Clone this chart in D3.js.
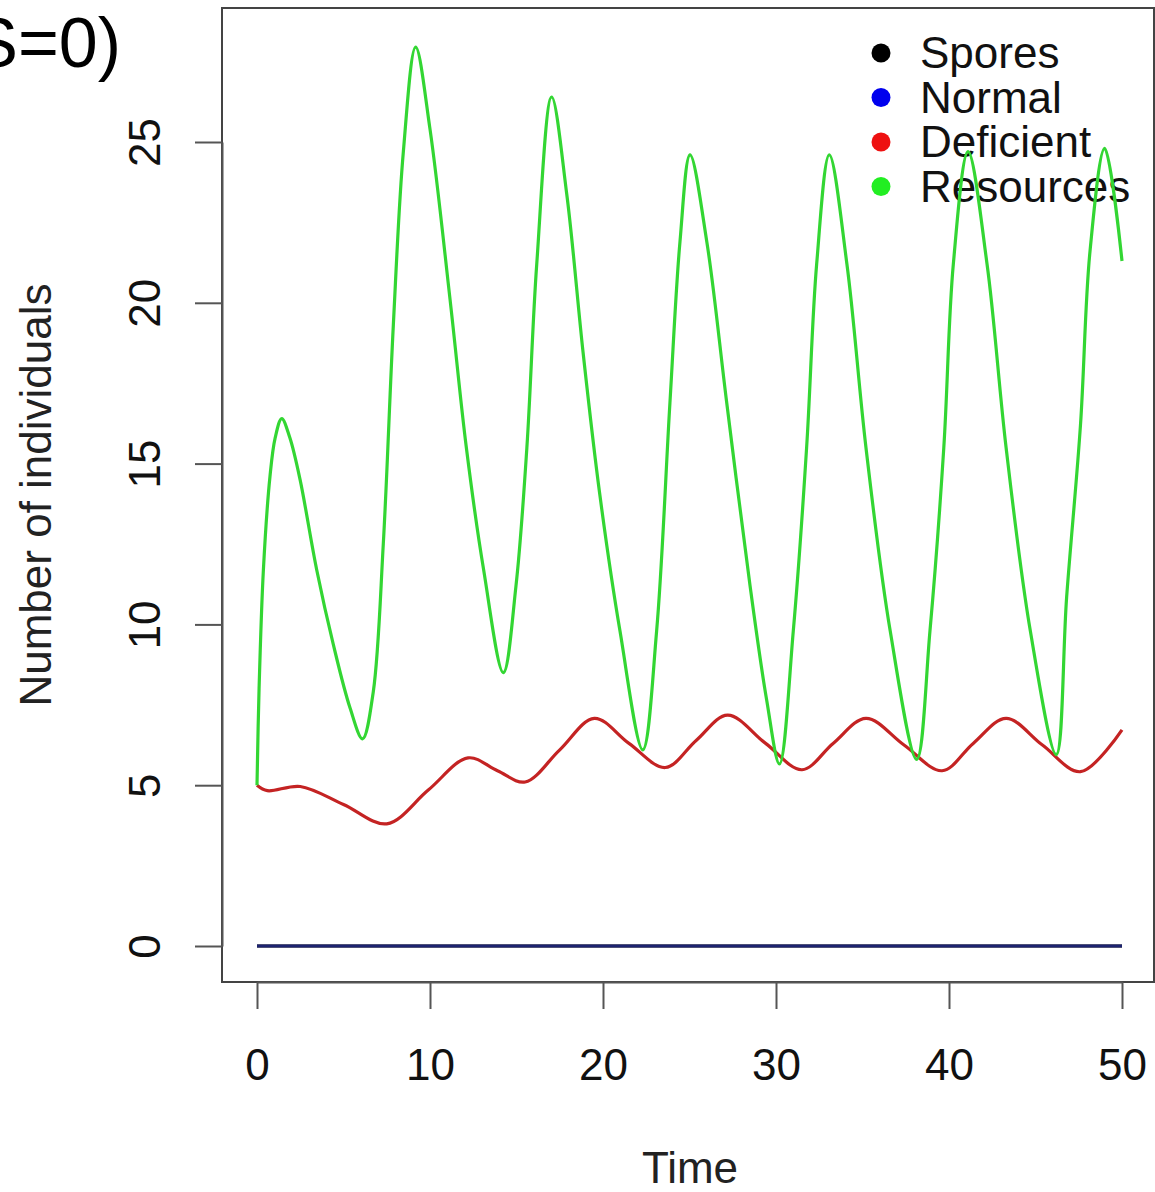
<!DOCTYPE html>
<html>
<head>
<meta charset="utf-8">
<script src="https://cdn.jsdelivr.net/npm/d3@7"></script>
<style>
  body { margin: 0; background: #fff; }
  svg { display: block; font-family: "Liberation Sans", Arial, sans-serif; }
</style>
</head>
<body>
<svg width="1155" height="1192"></svg>
<script>
// series (time, value)
const resTime = [0, 0.12, 0.37, 0.75, 1.05, 1.43, 1.9, 2.49, 3.45, 4.4, 5.38, 6.1, 6.72, 7.3, 7.88, 8.46, 9.17, 10.0, 11.16, 12.1, 13.1, 14.24,
                 14.97, 15.6, 16.17, 17.03, 17.9, 18.86, 19.8, 20.98, 22.3, 23.1, 23.87, 24.45, 25.03, 26.0, 27.15, 28.5, 29.46, 30.2,
                 31.0, 31.77, 32.35, 33.08, 34.1, 35.2, 36.6, 38.13, 38.9, 39.7, 40.25, 41.1, 42.2, 43.3, 44.7, 46.2,
                 46.8, 47.6, 48.15, 49.0, 50.0];
const resources = [5.0, 8.0, 11.7, 14.6, 15.8, 16.4, 15.8, 14.5, 11.7, 9.4, 7.4, 6.44, 7.9, 12.5, 19.3, 24.7, 27.95, 25.4, 20.1, 15.5, 11.7, 8.5,
                   11.2, 15.5, 21.2, 26.4, 23.4, 18.4, 14.1, 9.8, 6.1, 9.8, 16.9, 21.9, 24.6, 21.9, 16.9, 11.2, 7.65, 5.66,
                   9.8, 15.5, 21.2, 24.6, 21.2, 15.5, 9.8, 5.8, 9.8, 15.5, 21.2, 24.7, 21.2, 15.5, 9.8, 5.95,
                   10.85, 16.2, 21.6, 24.8, 21.3];

const defTime = [0, 0.6, 2.5, 5.0, 7.5, 9.9, 12.2, 13.9, 15.5, 17.5, 19.5, 21.5, 23.6, 25.4, 27.2, 29.4, 31.5, 33.3, 35.2,
                 37.4, 39.6, 41.4, 43.3, 45.4, 47.6, 50.0];
const deficient = [5.0, 4.83, 4.96, 4.4, 3.8, 4.85, 5.85, 5.45, 5.1, 6.1, 7.08, 6.3, 5.55, 6.4, 7.18, 6.3, 5.48, 6.3, 7.08,
                   6.25, 5.45, 6.3, 7.08, 6.25, 5.42, 6.72];

const flatTime = [0, 50];
const spores = [0, 0];
const normal = [0, 0];

const legendLabels = ["Spores", "Normal", "Deficient", "Resources"];
const legendColors = ["#000000", "#0000ee", "#ee1111", "#22ee22"];
const xTicks = [0, 10, 20, 30, 40, 50];
const yTicks = [0, 5, 10, 15, 20, 25];

const svg = d3.select("svg");

const x = d3.scaleLinear().domain([0, 50]).range([257, 1122]);
const y = d3.scaleLinear().domain([0, 25]).range([946, 142]);

// plot box
svg.append("rect")
   .attr("x", 222).attr("y", 8)
   .attr("width", 932).attr("height", 974)
   .attr("fill", "none")
   .attr("stroke", "#444")
   .attr("stroke-width", 2);

// x axis
const xAxis = svg.append("g").attr("transform", "translate(0,982)")
  .call(d3.axisBottom(x).tickValues(xTicks).tickSize(27).tickPadding(40).tickSizeOuter(0));
xAxis.select(".domain").attr("stroke", "#555").attr("stroke-width", 2);
xAxis.selectAll(".tick line").attr("stroke", "#555").attr("stroke-width", 2);
xAxis.selectAll(".tick text").attr("font-size", 44).attr("fill", "#111")
     .attr("font-family", "Liberation Sans, Arial, sans-serif");

// y axis
const yAxis = svg.append("g").attr("transform", "translate(222,0)")
  .call(d3.axisLeft(y).tickValues(yTicks).tickSize(27).tickSizeOuter(0));
yAxis.select(".domain").attr("stroke", "#555").attr("stroke-width", 2);
yAxis.selectAll(".tick line").attr("stroke", "#555").attr("stroke-width", 2);
yAxis.selectAll(".tick text")
     .attr("x", null).attr("dy", null)
     .attr("text-anchor", "middle")
     .attr("font-size", 44).attr("fill", "#111")
     .attr("font-family", "Liberation Sans, Arial, sans-serif")
     .attr("transform", "translate(-62,0) rotate(-90)");

// axis titles
svg.append("text")
   .attr("x", 690).attr("y", 1183)
   .attr("text-anchor", "middle")
   .attr("font-size", 44).attr("fill", "#222")
   .text("Time");

svg.append("text")
   .attr("transform", "translate(51,495) rotate(-90)")
   .attr("text-anchor", "middle")
   .attr("font-size", 44).attr("fill", "#222")
   .text("Number of individuals");

// title, cut off at the left edge
svg.append("text")
   .attr("x", 121).attr("y", 67)
   .attr("text-anchor", "end")
   .attr("font-size", 70).attr("fill", "#000")
   .text("(S=0)");

// legend
const leg = svg.append("g");
legendLabels.forEach((lab, i) => {
  const yy = 53 + i * 44.5;
  leg.append("circle").attr("cx", 881).attr("cy", yy).attr("r", 9.5).attr("fill", legendColors[i]);
  leg.append("text").attr("x", 920).attr("y", yy).attr("dy", "0.35em")
     .attr("font-size", 44).attr("fill", "#111").text(lab);
});

// lines
const line = d3.line().x(d => x(d[0])).y(d => y(d[1])).curve(d3.curveCatmullRom.alpha(0.5));

function draw(times, vals, color) {
  svg.append("path")
     .datum(d3.zip(times, vals))
     .attr("d", line)
     .attr("fill", "none")
     .attr("stroke", color)
     .attr("stroke-width", 3.2);
}

draw(flatTime, spores, "#000000");
draw(flatTime, normal, "#1c2370");
draw(defTime, deficient, "#c42323");
draw(resTime, resources, "#33d633");
</script>
</body>
</html>
